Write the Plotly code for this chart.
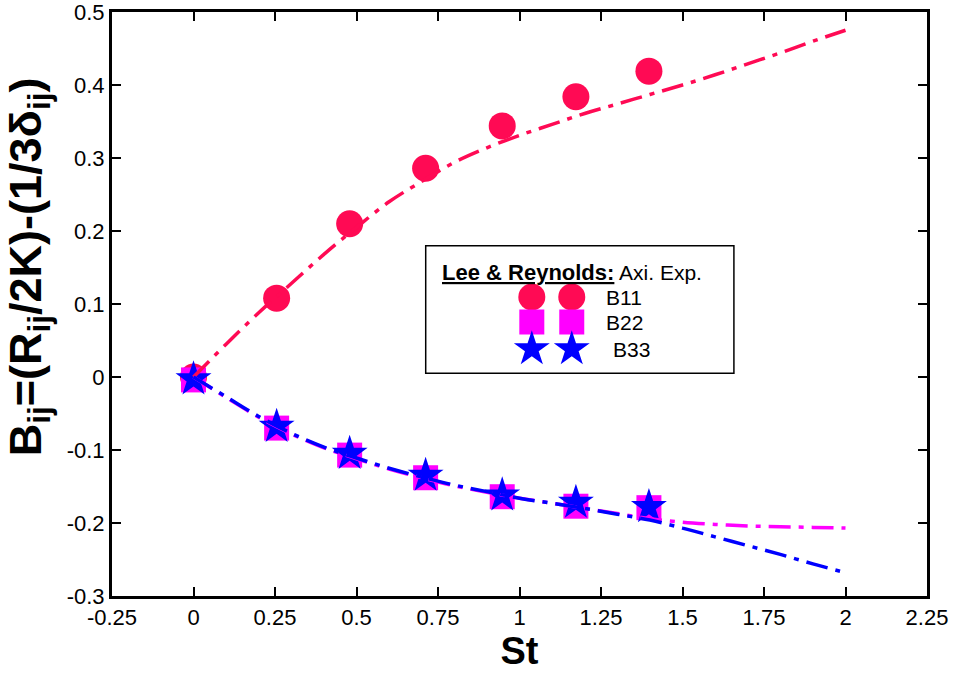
import plotly.graph_objects as go

# Experimental data (Lee & Reynolds, axisymmetric expansion)
st_exp = [0.0, 0.255, 0.479, 0.712, 0.947, 1.173, 1.397]
b11_exp = [0.0, 0.108, 0.210, 0.286, 0.344, 0.384, 0.419]
b22_exp = [-0.004, -0.070, -0.107, -0.138, -0.164, -0.177, -0.179]
b33_exp = [-0.003, -0.068, -0.105, -0.135, -0.162, -0.172, -0.178]

# Model curves
st_mod = [0.0, 0.1, 0.2, 0.3, 0.4, 0.5, 0.6, 0.7, 0.8, 0.9, 1.0,
          1.1, 1.2, 1.3, 1.4, 1.5, 1.6, 1.7, 1.8, 1.9, 2.0]
b11_mod = [0.0, 0.045, 0.088, 0.128, 0.168, 0.205, 0.240, 0.268, 0.294, 0.314, 0.331,
           0.346, 0.361, 0.374, 0.387, 0.400, 0.414, 0.429, 0.444, 0.460, 0.475]
b22_mod = [0.0, -0.028, -0.055, -0.078, -0.097, -0.112, -0.126, -0.138, -0.149, -0.158, -0.166,
           -0.173, -0.180, -0.187, -0.194, -0.199, -0.202, -0.204, -0.205, -0.206, -0.207]
b33_mod = [0.0, -0.027, -0.054, -0.077, -0.096, -0.111, -0.125, -0.137, -0.148, -0.157, -0.166,
           -0.173, -0.180, -0.188, -0.196, -0.207, -0.219, -0.231, -0.243, -0.256, -0.268]

x_ticks = [-0.25, 0, 0.25, 0.5, 0.75, 1, 1.25, 1.5, 1.75, 2, 2.25]
x_ticklabels = ["-0.25", "0", "0.25", "0.5", "0.75", "1", "1.25", "1.5", "1.75", "2", "2.25"]
y_ticks = [-0.3, -0.2, -0.1, 0, 0.1, 0.2, 0.3, 0.4, 0.5]
y_ticklabels = ["-0.3", "-0.2", "-0.1", "0", "0.1", "0.2", "0.3", "0.4", "0.5"]

RED = "#FF0A54"
MAG = "#FF00FF"
BLUE = "#0000FF"
DASH = "22px,8px,5px,8px"
FONT = "Liberation Sans, Arial, Helvetica"

fig = go.Figure()

fig.add_trace(go.Scatter(x=st_exp, y=b11_exp, mode="markers",
                         marker=dict(symbol="circle", size=27, color=RED), showlegend=False))
fig.add_trace(go.Scatter(x=st_exp, y=b22_exp, mode="markers",
                         marker=dict(symbol="square", size=25, color=MAG), showlegend=False))
fig.add_trace(go.Scatter(x=st_exp, y=b33_exp, mode="markers",
                         marker=dict(symbol="star", size=27, color=BLUE), showlegend=False))

for yv, c in [(b11_mod, RED), (b22_mod, MAG), (b33_mod, BLUE)]:
    fig.add_trace(go.Scatter(x=st_mod, y=yv, mode="lines", line_shape="spline",
                             line=dict(color=c, width=3.5, dash=DASH), showlegend=False))

# Custom legend (in an overlay axis spanning the legend box)
leg_x = [0.345, 0.474]
leg_rows = [("B11", "circle", RED, 0.597, 27, 0.577),
            ("B22", "square", MAG, 0.403, 25, 0.577),
            ("B33", "star", BLUE, 0.194, 27, 0.600)]
for name, sym, col, yy, sz, lx in leg_rows:
    fig.add_trace(go.Scatter(x=leg_x, y=[yy, yy], xaxis="x2", yaxis="y2", mode="markers",
                             marker=dict(symbol=sym, size=sz, color=col), showlegend=False,
                             hoverinfo="skip"))
    fig.add_annotation(x=lx, y=yy, xref="x2", yref="y2", text=name, showarrow=False,
                       xanchor="left", yanchor="middle",
                       font=dict(family=FONT, size=21, color="black"))

fig.add_annotation(x=0.05, y=0.79, xref="x2", yref="y2",
                   text=("<span style='text-decoration:underline;font-size:22px'><b>Lee &amp; Reynolds:</b></span>"
                         "<span style='font-size:21px'> Axi. Exp.</span>"),
                   showarrow=False, xanchor="left", yanchor="middle",
                   font=dict(family=FONT, size=21, color="black"))

fig.add_shape(type="rect", xref="x2", yref="y2", x0=0, x1=1, y0=0, y1=1,
              line=dict(color="black", width=3), fillcolor="rgba(0,0,0,0)")

# Y-axis title as a rotated annotation
fig.add_annotation(x=-0.103, y=0.563, xref="paper", yref="paper",
                   text="<b>B<sub>ij</sub>=(R<sub>ij</sub>/2K)-(1/3δ<sub>ij</sub>)</b>",
                   textangle=-90, showarrow=False, xanchor="center", yanchor="middle",
                   font=dict(family=FONT, size=45, color="black"))

axis_common = dict(showgrid=False, zeroline=False, showline=True, linecolor="black",
                   linewidth=3, mirror="allticks", ticks="inside", ticklen=9,
                   tickwidth=2, tickcolor="black", ticklabeloverflow="allow",
                   tickfont=dict(family=FONT, size=22, color="black"))

fig.update_layout(
    width=955, height=679,
    margin=dict(l=112, r=28, t=12, b=83),
    plot_bgcolor="white", paper_bgcolor="white",
    xaxis=dict(range=[-0.25, 2.25], tickvals=x_ticks, ticktext=x_ticklabels,
               title=dict(text="<b>St</b>", standoff=4,
                          font=dict(family=FONT, size=38, color="black")),
               automargin=False, **axis_common),
    yaxis=dict(range=[-0.3, 0.5], tickvals=y_ticks, ticktext=y_ticklabels,
               automargin=False, **axis_common),
    xaxis2=dict(domain=[0.384, 0.764], range=[0, 1], visible=False, anchor="y2"),
    yaxis2=dict(domain=[0.380, 0.601], range=[0, 1], visible=False, anchor="x2"),
)

fig.write_html("out.html")
